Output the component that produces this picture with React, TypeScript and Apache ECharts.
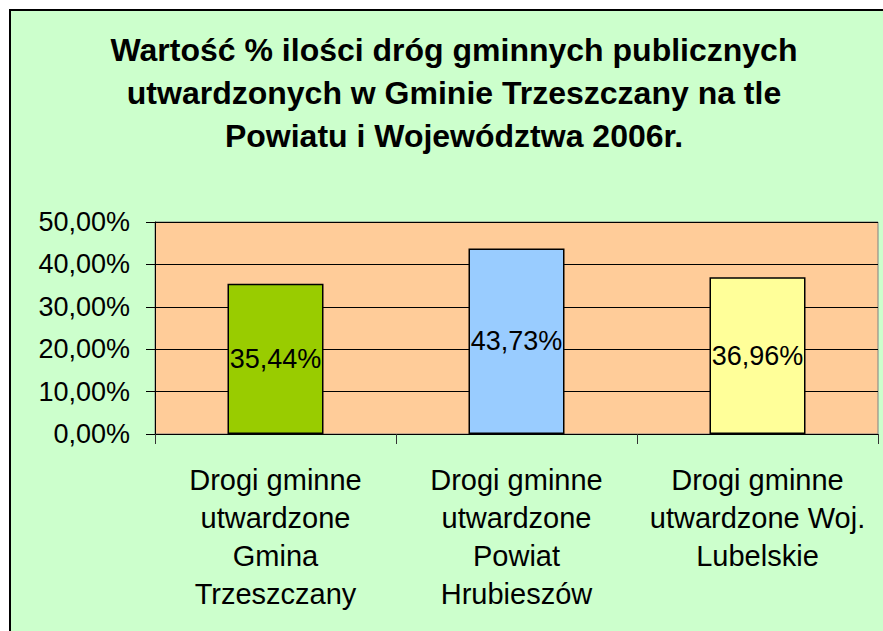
import React, { useEffect, useRef } from "react";
import * as echarts from "echarts";

const titleLines = [
  "Wartość % ilości dróg gminnych publicznych",
  "utwardzonych w Gminie Trzeszczany na tle",
  "Powiatu i Województwa 2006r.",
];
const categories = [
  "Drogi gminne\nutwardzone\nGmina\nTrzeszczany",
  "Drogi gminne\nutwardzone\nPowiat\nHrubieszów",
  "Drogi gminne\nutwardzone Woj.\nLubelskie",
];
const values = [35.44, 43.73, 36.96];
const barColors = ["#99CC00", "#99CCFF", "#FFFF99"];
const yMin = 0;
const yMax = 50;
const yInterval = 10;

const FONT = "'Liberation Sans', Arial, sans-serif";
const fmt = (v: number) => v.toFixed(2).replace(".", ",") + "%";

export default function App() {
  const ref = useRef<HTMLDivElement>(null);
  useEffect(() => {
    document.body.style.margin = "0";
    if (!ref.current) return;
    const chart = echarts.init(ref.current, undefined, { renderer: "svg" });
    chart.setOption({
      animation: false,
      backgroundColor: "#FFFFFF",
      graphic: [
        {
          type: "rect",
          z: -10,
          shape: { x: 10, y: 10, width: 900, height: 700 },
          style: { fill: "#CCFFCC", stroke: "#000000", lineWidth: 2 },
          silent: true,
        },
      ],
      title: {
        text: titleLines.join("\n"),
        left: 449,
        top: 23,
        textAlign: "center",
        textStyle: {
          fontFamily: FONT,
          fontSize: 32,
          fontWeight: "bold",
          color: "#000000",
          lineHeight: 43,
        },
      },
      grid: {
        left: 155,
        top: 222,
        right: 5,
        bottom: 197,
        show: true,
        backgroundColor: "#FFCC99",
        borderColor: "#808080",
        borderWidth: 1,
        containLabel: false,
      },
      xAxis: {
        type: "category",
        data: categories,
        axisLine: { show: true, lineStyle: { color: "#000000", width: 1 } },
        axisTick: { show: true, length: 10, lineStyle: { color: "#333333" } },
        axisLabel: {
          interval: 0,
          margin: 27,
          fontFamily: FONT,
          fontSize: 29,
          lineHeight: 38,
          color: "#000000",
          align: "center",
        },
      },
      yAxis: {
        type: "value",
        min: yMin,
        max: yMax,
        interval: yInterval,
        axisLine: { show: true, lineStyle: { color: "#000000", width: 1 } },
        axisTick: { show: true, length: 9, lineStyle: { color: "#000000" } },
        splitLine: { show: true, lineStyle: { color: "#000000", width: 1 } },
        axisLabel: {
          margin: 25,
          fontFamily: FONT,
          fontSize: 27,
          color: "#000000",
          formatter: (v: number) => fmt(v),
        },
      },
      series: [
        {
          type: "bar",
          barWidth: 96,
          data: values.map((v, i) => ({
            value: v,
            itemStyle: { color: barColors[i], borderColor: "#000000", borderWidth: 1.5 },
          })),
          label: {
            show: true,
            position: "inside",
            fontFamily: FONT,
            fontSize: 27,
            color: "#000000",
            formatter: (p: any) => fmt(p.value),
          },
        },
      ],
    });
    return () => chart.dispose();
  }, []);
  return <div ref={ref} style={{ width: 883, height: 631 }} />;
}
